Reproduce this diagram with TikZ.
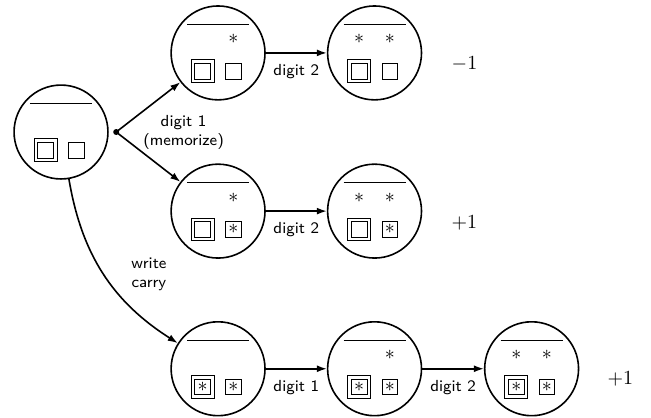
\documentclass[tikz,border=0pt]{standalone}
\usepackage{amsmath,amssymb}
\usepackage{tikz}
\usetikzlibrary{arrows.meta,positioning}

\tikzset{
  state/.style={draw, thick, circle, minimum size=1.65cm, inner sep=0pt},
  sbox/.style={draw, minimum size=7.9pt, inner sep=0pt},
  fbox/.style={draw, minimum size=11.4pt, inner sep=0pt},
  lbl/.style={font=\sffamily\footnotesize},
  edge/.style={thick, -{Latex[length=5pt,width=3.5pt]}}
}

% contents of a state: #1 node, #2 #3 upper stars, #4 #5 box contents
\newcommand{\cellmarks}[5]{%
  \draw ([shift={(-0.545,0.5)}]#1.center) -- ([shift={(0.545,0.5)}]#1.center);
  \node (#1-s1) at ([shift={(-0.27,0.24)}]#1.center) {#2};
  \node (#1-s2) at ([shift={(0.27,0.24)}]#1.center) {#3};
  \node[fbox] (#1-f1) at ([shift={(-0.27,-0.32)}]#1.center) {};
  \node[sbox] (#1-b1) at (#1-f1.center) {#4};
  \node[sbox] (#1-b2) at ([shift={(0.27,-0.32)}]#1.center) {#5};
}

\begin{document}
\begin{tikzpicture}
 \useasboundingbox (-1.072,-5.008) rectangle (10.368,2.32);

 \node[state] (L) at (0,0) {};        % start
 \node[state] (T1) at (2.76,1.39) {};  % upper row
 \node[state] (T2) at (5.51,1.39) {};
 \node[state] (M1) at (2.76,-1.39) {}; % middle row
 \node[state] (M2) at (5.51,-1.39) {};
 \node[state] (B1) at (2.76,-4.16) {}; % lower row
 \node[state] (B2) at (5.51,-4.16) {};
 \node[state] (B3) at (8.27,-4.16) {};

 \cellmarks{L}{}{}{}{}
 \cellmarks{T1}{}{$*$}{}{}
 \cellmarks{T2}{$*$}{$*$}{}{}
 \cellmarks{M1}{}{$*$}{}{$*$}
 \cellmarks{M2}{$*$}{$*$}{}{$*$}
 \cellmarks{B1}{}{}{$*$}{$*$}
 \cellmarks{B2}{}{$*$}{$*$}{$*$}
 \cellmarks{B3}{$*$}{$*$}{$*$}{$*$}

 \coordinate (split) at (0.97,0);
 \fill (split) circle (1.5pt);
 \draw[edge] (split) -- (T1);
 \draw[edge] (split) -- (M1);
 \node[lbl, align=center, right=10pt of split] (memo) {digit 1\\(memorize)};

 \draw[edge] (T1) -- node[lbl, below=2pt] (dT) {digit 2} (T2);
 \draw[edge] (M1) -- node[lbl, below=2pt] (dM) {digit 2} (M2);
 \draw[edge] (B1) -- node[lbl, below=2pt] (dB1) {digit 1} (B2);
 \draw[edge] (B2) -- node[lbl, below=2pt] (dB2) {digit 2} (B3);

 \draw[edge] (L) to[bend right=24] node[lbl, align=center, right=10pt] (wc) {write\\carry} (B1);

 \node (vT) at ([shift={(1.58,-0.2)}]T2) {$-1$};
 \node (vM) at ([shift={(1.58,-0.2)}]M2) {$+1$};
 \node (vB) at ([shift={(1.56,-0.18)}]B3) {$+1$};
\end{tikzpicture}
\end{document}
